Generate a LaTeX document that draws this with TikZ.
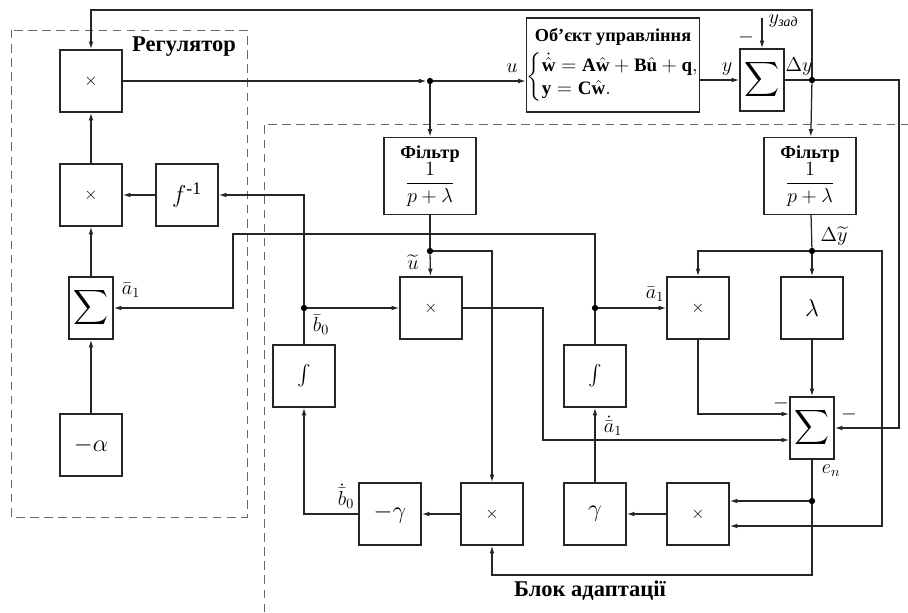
\documentclass[tikz,border=0pt]{standalone}
\usepackage{amsmath}
\usepackage{fontspec}
\setmainfont{Liberation Serif}
\usetikzlibrary{arrows.meta, positioning, calc}
\tikzset{
  blk/.style={rectangle, draw=black!85, line width=1pt, minimum width=1.55cm, minimum height=1.55cm,
    inner sep=0pt, text centered, font=\fontsize{13}{15}\selectfont},
  sumblk/.style={blk, minimum width=1.1cm, font=\fontsize{18}{20}\selectfont},
  filt/.style={blk, minimum width=2.3cm, minimum height=1.92cm, align=center},
  jn/.style={circle, fill=black, inner sep=0pt, minimum size=4.5pt},
  arr/.style={-{Latex[length=5.5pt,width=3.4pt]}, line width=0.9pt, draw=black!85},
  ln/.style={line width=0.9pt, draw=black!85},
  dashframe/.style={draw=black!60, dash pattern=on 6pt off 4pt, line width=0.7pt},
  lbl/.style={font=\fontsize{14}{16}\selectfont, inner sep=1pt},
  ttl/.style={font=\fontsize{16}{18}\selectfont\bfseries},
}

\begin{document}
\begin{tikzpicture}[x={(0.025cm,0)}, y={(0,-0.025cm)}]
  \useasboundingbox (0,0) rectangle (908,612);

  % dashed frames
  \draw[dashframe] (11,30) rectangle (247,517);
  \draw[dashframe] (264,612) -- (264,124) -- (908,124);
  \node[ttl] (tReg) at (184,47) {Регулятор};
  \node[ttl] (tAd) at (590,591) {Блок адаптації};

  % regulator
  \node[blk] (mulTop) at (91,81) {$\times$};
  \node[blk] (mulMid) at (91,195) {$\times$};
  \node[blk, font=\fontsize{18}{20}\selectfont] (finv) at (187,195) {$f^{\text{-1}}$};
  \node[sumblk] (sumL) at (91,308) {$\displaystyle\sum$};
  \node[blk, font=\fontsize{16}{18}\selectfont] (alpha) at (91,445) {$-\alpha$};

  % plant
  \node[blk, minimum width=4.3cm, minimum height=2.35cm, align=center] (obj) at (613,65)
    {{\fontsize{13}{15}\selectfont\bfseries Об’єкт управління}\\[4pt]
     {\fontsize{13.5}{16}\selectfont$\left\{\begin{array}{@{}l@{}}
       \dot{\hat{\mathbf w}} = \mathbf A\hat{\mathbf w} + \mathbf B\hat{\mathbf u} + \mathbf q,\\
       \mathbf y = \mathbf C\hat{\mathbf w}.\end{array}\right.$}};
  \node[sumblk] (sumTop) at (762,80) {$\displaystyle\sum$};

  % adaptation
  \node[filt] (filtU) at (430,176) {{\bfseries\fontsize{13}{14}\selectfont Фільтр}\\[-1pt]{\fontsize{15}{17}\selectfont$\dfrac{1}{p+\lambda}$}};
  \node[filt] (filtY) at (810,176) {{\bfseries\fontsize{13}{14}\selectfont Фільтр}\\[-1pt]{\fontsize{15}{17}\selectfont$\dfrac{1}{p+\lambda}$}};
  \node[blk] (mulU) at (431,308) {$\times$};
  \node[blk, font=\fontsize{15}{17}\selectfont] (intB) at (304,376) {$\int$};
  \node[blk, font=\fontsize{15}{17}\selectfont] (intA) at (595,376) {$\int$};
  \node[blk] (mulA) at (698,308) {$\times$};
  \node[blk, font=\fontsize{17}{20}\selectfont] (lam) at (812,308) {$\lambda$};
  \node[sumblk] (sumR) at (812,428) {$\displaystyle\sum$};
  \node[blk, font=\fontsize{17}{20}\selectfont] (negGam) at (390,514) {$-\gamma$};
  \node[blk] (mulB) at (492,514) {$\times$};
  \node[blk, font=\fontsize{17}{20}\selectfont] (gam) at (595,514) {$\gamma$};
  \node[blk] (mulC) at (698,514) {$\times$};

  % junctions
  \node[jn] (jU) at (430,81) {};
  \node[jn] (jDy) at (812,80) {};
  \node[jn] (jUt) at (430,251) {};
  \node[jn] (jDyt) at (812,251) {};
  \node[jn] (jB) at (304,308) {};
  \node[jn] (jA) at (595,308) {};
  \node[jn] (jE) at (812,501) {};

  % bends
  \coordinate (tfR) at (812,10);
  \coordinate (rR) at (899,80);
  \coordinate (yz) at (762,18);
  \coordinate (rR2) at (882,251);
  \coordinate (bB) at (812,575);
  \coordinate (aT) at (595,234);
  \coordinate (aL) at (233,234);
  \coordinate (uR) at (543,440);

  % regulator links
  \draw[arr] (alpha) -- (sumL);
  \draw[arr] (sumL) -- (mulMid);
  \draw[arr] (mulMid) -- (mulTop);
  \draw[arr] (finv) -- (mulMid);
  \draw[arr] (mulTop) -- (jU);
  \draw[arr] (jU) -- (jU -| obj.west);
  \draw[arr] (obj.east |- sumTop) -- (sumTop);
  \draw[arr] (yz) -- (sumTop);
  \draw[ln] (sumTop) -- (jDy);
  \draw[arr] (jDy) -- (tfR) -| (mulTop);
  \draw[arr] (jDy) -- (rR) |- (sumR);

  % filters
  \draw[arr] (jU) -- (filtU);
  \draw[arr] (jDy) -- (filtY);
  \draw[ln] (filtU) -- (jUt);
  \draw[arr] (jUt) -- (mulU);
  \draw[arr] (jUt) -| (mulB);
  \draw[ln] (filtY) -- (jDyt);
  \draw[arr] (jDyt) -- (lam);
  \draw[arr] (jDyt) -| (mulA);
  \draw[arr] (jDyt) -- (rR2) |- ($(mulC.east)+(0,12)$);

  % error
  \draw[arr] (lam) -- (sumR);
  \draw[arr] (mulA) |- ($(sumR.west)+(0,-14)$);
  \draw[arr] (mulU) -| (uR) -- (uR -| sumR.west);
  \draw[ln] (sumR) -- (jE);
  \draw[arr] (jE) -- (jE -| mulC.east);
  \draw[arr] (jE) -- (bB) -| (mulB);

  % estimates
  \draw[arr] (mulC) -- (gam);
  \draw[arr] (gam) -- (intA);
  \draw[ln] (intA) -- (jA);
  \draw[arr] (jA) -- (mulA);
  \draw[arr] (jA) -- (aT) -- (aL) |- (sumL);
  \draw[arr] (mulB) -- (negGam);
  \draw[arr] (negGam) -| (intB);
  \draw[ln] (intB) -- (jB);
  \draw[arr] (jB) -- (mulU);
  \draw[arr] (jB) |- (finv);

  % labels
  \node[lbl] (lu) at (512,68) {$u$};
  \node[lbl] (ly) at (727,69) {$y$};
  \node[lbl] (lm1) at (746,37) {$-$};
  \node[lbl, anchor=west] (lyz) at (767,21) {$y_{\text{\itshape зад}}$};
  \node[lbl] (lDy) at (799,67) {$\Delta y$};
  \node[lbl] (lut) at (413,262) {$\widetilde{u}$};
  \node[lbl] (lDyt) at (834,236) {$\Delta\widetilde{y}$};
  \node[lbl] (lb0) at (321,325) {$\bar{b}_0$};
  \node[lbl] (la1L) at (131,290) {$\bar{a}_1$};
  \node[lbl] (la1R) at (655,294) {$\bar{a}_1$};
  \node[lbl] (lm2) at (781,403) {$-$};
  \node[lbl] (lm3) at (849,414) {$-$};
  \node[lbl] (len) at (831,471) {$e_n$};
  \node[lbl] (lda1) at (613,426) {$\dot{\bar{a}}_1$};
  \node[lbl] (ldb0) at (346,496) {$\dot{\bar{b}}_0$};
\end{tikzpicture}
\end{document}
